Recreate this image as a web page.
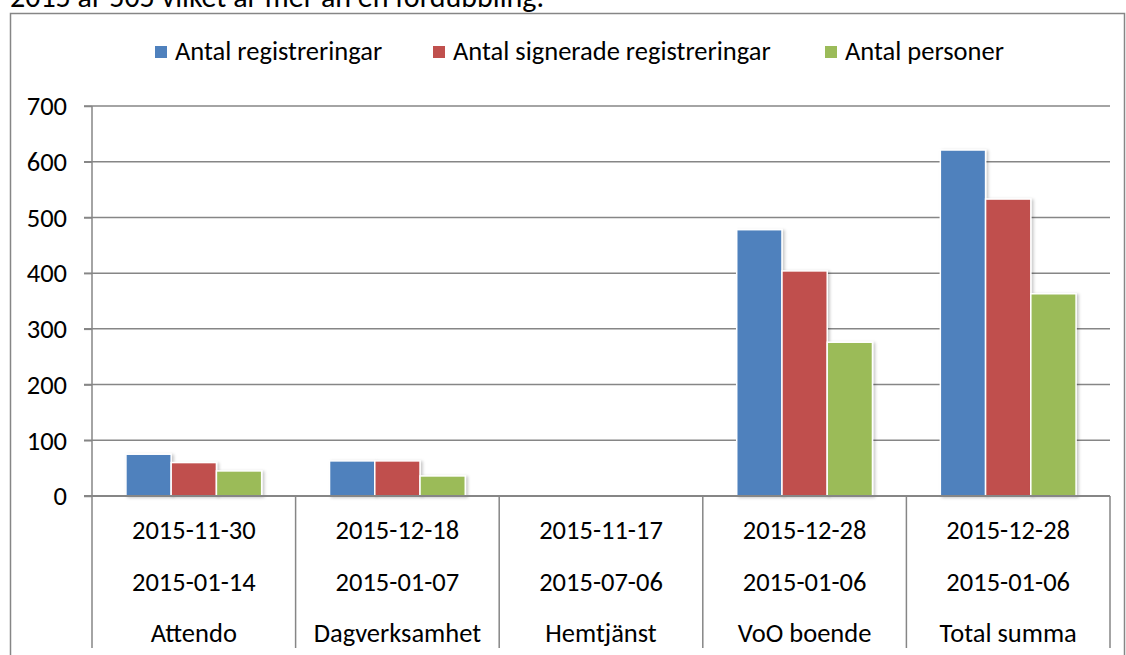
<!DOCTYPE html>
<html>
<head>
<meta charset="utf-8">
<script src="https://cdn.jsdelivr.net/npm/d3@7"></script>
<style>
  html, body { margin: 0; padding: 0; background: #fff; overflow: hidden; }
  text { font-family: Carlito, Calibri, "Open Sans", sans-serif; fill: #000; }
</style>
</head>
<body>
<div id="canvas"></div>
<script>
var categories = ["Attendo", "Dagverksamhet", "Hemtjänst", "VoO boende", "Total summa"];
var slutDatum = ["2015-11-30", "2015-12-18", "2015-11-17", "2015-12-28", "2015-12-28"];
var startDatum = ["2015-01-14", "2015-01-07", "2015-07-06", "2015-01-06", "2015-01-06"];
var seriesNames = ["Antal registreringar", "Antal signerade registreringar", "Antal personer"];
var registreringar = [75, 63, 0, 478, 621];
var signerade = [60, 63, 0, 404, 533];
var personer = [45, 36, 0, 276, 363];
var yTicks = [0, 100, 200, 300, 400, 500, 600, 700];
var colors = ["#4f81bd", "#c0504d", "#9bbb59"];

function run() {
  var width = 1126,
    height = 655;
  var plot = { left: 92, right: 1110, top: 106, bottom: 496 };
  var fontSize = 26.5;

  var svg = d3
    .select("#canvas")
    .append("svg")
    .attr("width", width)
    .attr("height", height);

  var defs = svg.append("defs");
  var shadow = defs
    .append("filter")
    .attr("id", "shadow")
    .attr("x", "-20%")
    .attr("y", "-20%")
    .attr("width", "140%")
    .attr("height", "140%");
  shadow
    .append("feDropShadow")
    .attr("dx", 2)
    .attr("dy", 1)
    .attr("stdDeviation", 1.5)
    .attr("flood-color", "#000")
    .attr("flood-opacity", 0.22);

  // cut off line of body text above the chart
  svg
    .append("text")
    .attr("x", 10)
    .attr("y", 7)
    .style("font-size", "30px")
    .text("2015 år 505 vilket är mer än en fördubbling.");

  // chart frame
  svg
    .append("rect")
    .attr("x", 10.5)
    .attr("y", 13.5)
    .attr("width", 1114)
    .attr("height", 700)
    .style("fill", "#fff")
    .style("stroke", "#868686")
    .style("stroke-width", 1.5);

  var data = categories.map(function(c, i) {
    return {
      name: c,
      d1: slutDatum[i],
      d2: startDatum[i],
      values: [registreringar[i], signerade[i], personer[i]]
    };
  });

  var x = d3
    .scaleBand()
    .domain(categories)
    .range([plot.left, plot.right])
    .paddingInner(0)
    .paddingOuter(0);

  var xInner = d3
    .scaleBand()
    .domain([0, 1, 2])
    .range([0, x.bandwidth()])
    .paddingInner(0)
    .paddingOuter(0.75);

  var y = d3
    .scaleLinear()
    .domain([0, 700])
    .range([plot.bottom, plot.top]);

  // gridlines
  svg
    .append("g")
    .selectAll("line")
    .data(yTicks.filter(function(t) { return t > 0; }))
    .enter()
    .append("line")
    .attr("x1", plot.left - 8)
    .attr("x2", plot.right)
    .attr("y1", function(d) { return y(d); })
    .attr("y2", function(d) { return y(d); })
    .style("stroke", "#868686")
    .style("stroke-width", 1.5);

  // y axis with labels
  var yAxis = d3
    .axisLeft(y)
    .tickValues(yTicks)
    .tickSize(8)
    .tickPadding(17);
  var yg = svg
    .append("g")
    .attr("transform", "translate(" + plot.left + ",0)")
    .call(yAxis);
  yg.select(".domain").remove();
  yg.selectAll(".tick line").style("stroke", "#868686").style("stroke-width", 1.5);
  yg.selectAll(".tick text")
    .style("font-size", fontSize + "px")
    .style("font-family", null)
    .attr("dy", "0.33em")
    .style("fill", "#000");

  // vertical axis line, running down through the category table
  svg
    .append("line")
    .attr("x1", plot.left)
    .attr("x2", plot.left)
    .attr("y1", plot.top)
    .attr("y2", 648)
    .style("stroke", "#868686")
    .style("stroke-width", 1.5);

  // bars
  var groups = svg
    .append("g")
    .selectAll("g")
    .data(data)
    .enter()
    .append("g")
    .attr("transform", function(d) {
      return "translate(" + x(d.name) + ",0)";
    });

  groups
    .selectAll("rect")
    .data(function(d) { return d.values; })
    .enter()
    .append("rect")
    .attr("x", function(d, i) { return xInner(i); })
    .attr("y", function(d) { return y(d); })
    .attr("width", xInner.bandwidth())
    .attr("height", function(d) { return y(0) - y(d); })
    .style("fill", function(d, i) { return colors[i]; })
    .style("stroke", "#fff")
    .style("stroke-width", 1.5)
    .attr("filter", function(d) { return d > 0 ? "url(#shadow)" : null; });

  // horizontal axis line
  svg
    .append("line")
    .attr("x1", plot.left - 8)
    .attr("x2", plot.right)
    .attr("y1", plot.bottom)
    .attr("y2", plot.bottom)
    .style("stroke", "#868686")
    .style("stroke-width", 2);

  // category table dividers
  var edges = categories.map(function(c) { return x(c); }).concat([plot.right]);
  svg
    .append("g")
    .selectAll("line")
    .data(edges.slice(1))
    .enter()
    .append("line")
    .attr("x1", function(d) { return d; })
    .attr("x2", function(d) { return d; })
    .attr("y1", plot.bottom)
    .attr("y2", 648)
    .style("stroke", "#868686")
    .style("stroke-width", 1.5);

  // category labels, three rows
  var rows = [
    { key: "d1", y: 539 },
    { key: "d2", y: 591 },
    { key: "name", y: 642 }
  ];
  rows.forEach(function(r) {
    svg
      .append("g")
      .selectAll("text")
      .data(data)
      .enter()
      .append("text")
      .attr("x", function(d) { return x(d.name) + x.bandwidth() / 2; })
      .attr("y", r.y)
      .attr("text-anchor", "middle")
      .style("font-size", fontSize + "px")
      .text(function(d) { return d[r.key]; });
  });

  // legend
  var legendX = [155, 433, 825];
  var legend = svg
    .append("g")
    .selectAll("g")
    .data(seriesNames)
    .enter()
    .append("g")
    .attr("transform", function(d, i) {
      return "translate(" + legendX[i] + ",0)";
    });
  legend
    .append("rect")
    .attr("x", 0)
    .attr("y", 46)
    .attr("width", 12)
    .attr("height", 12)
    .style("fill", function(d, i) { return colors[i]; });
  legend
    .append("text")
    .attr("x", 20)
    .attr("y", 60)
    .style("font-size", fontSize + "px")
    .text(function(d) { return d; });
}

(function() {
  run();
})();
</script>
</body>
</html>
